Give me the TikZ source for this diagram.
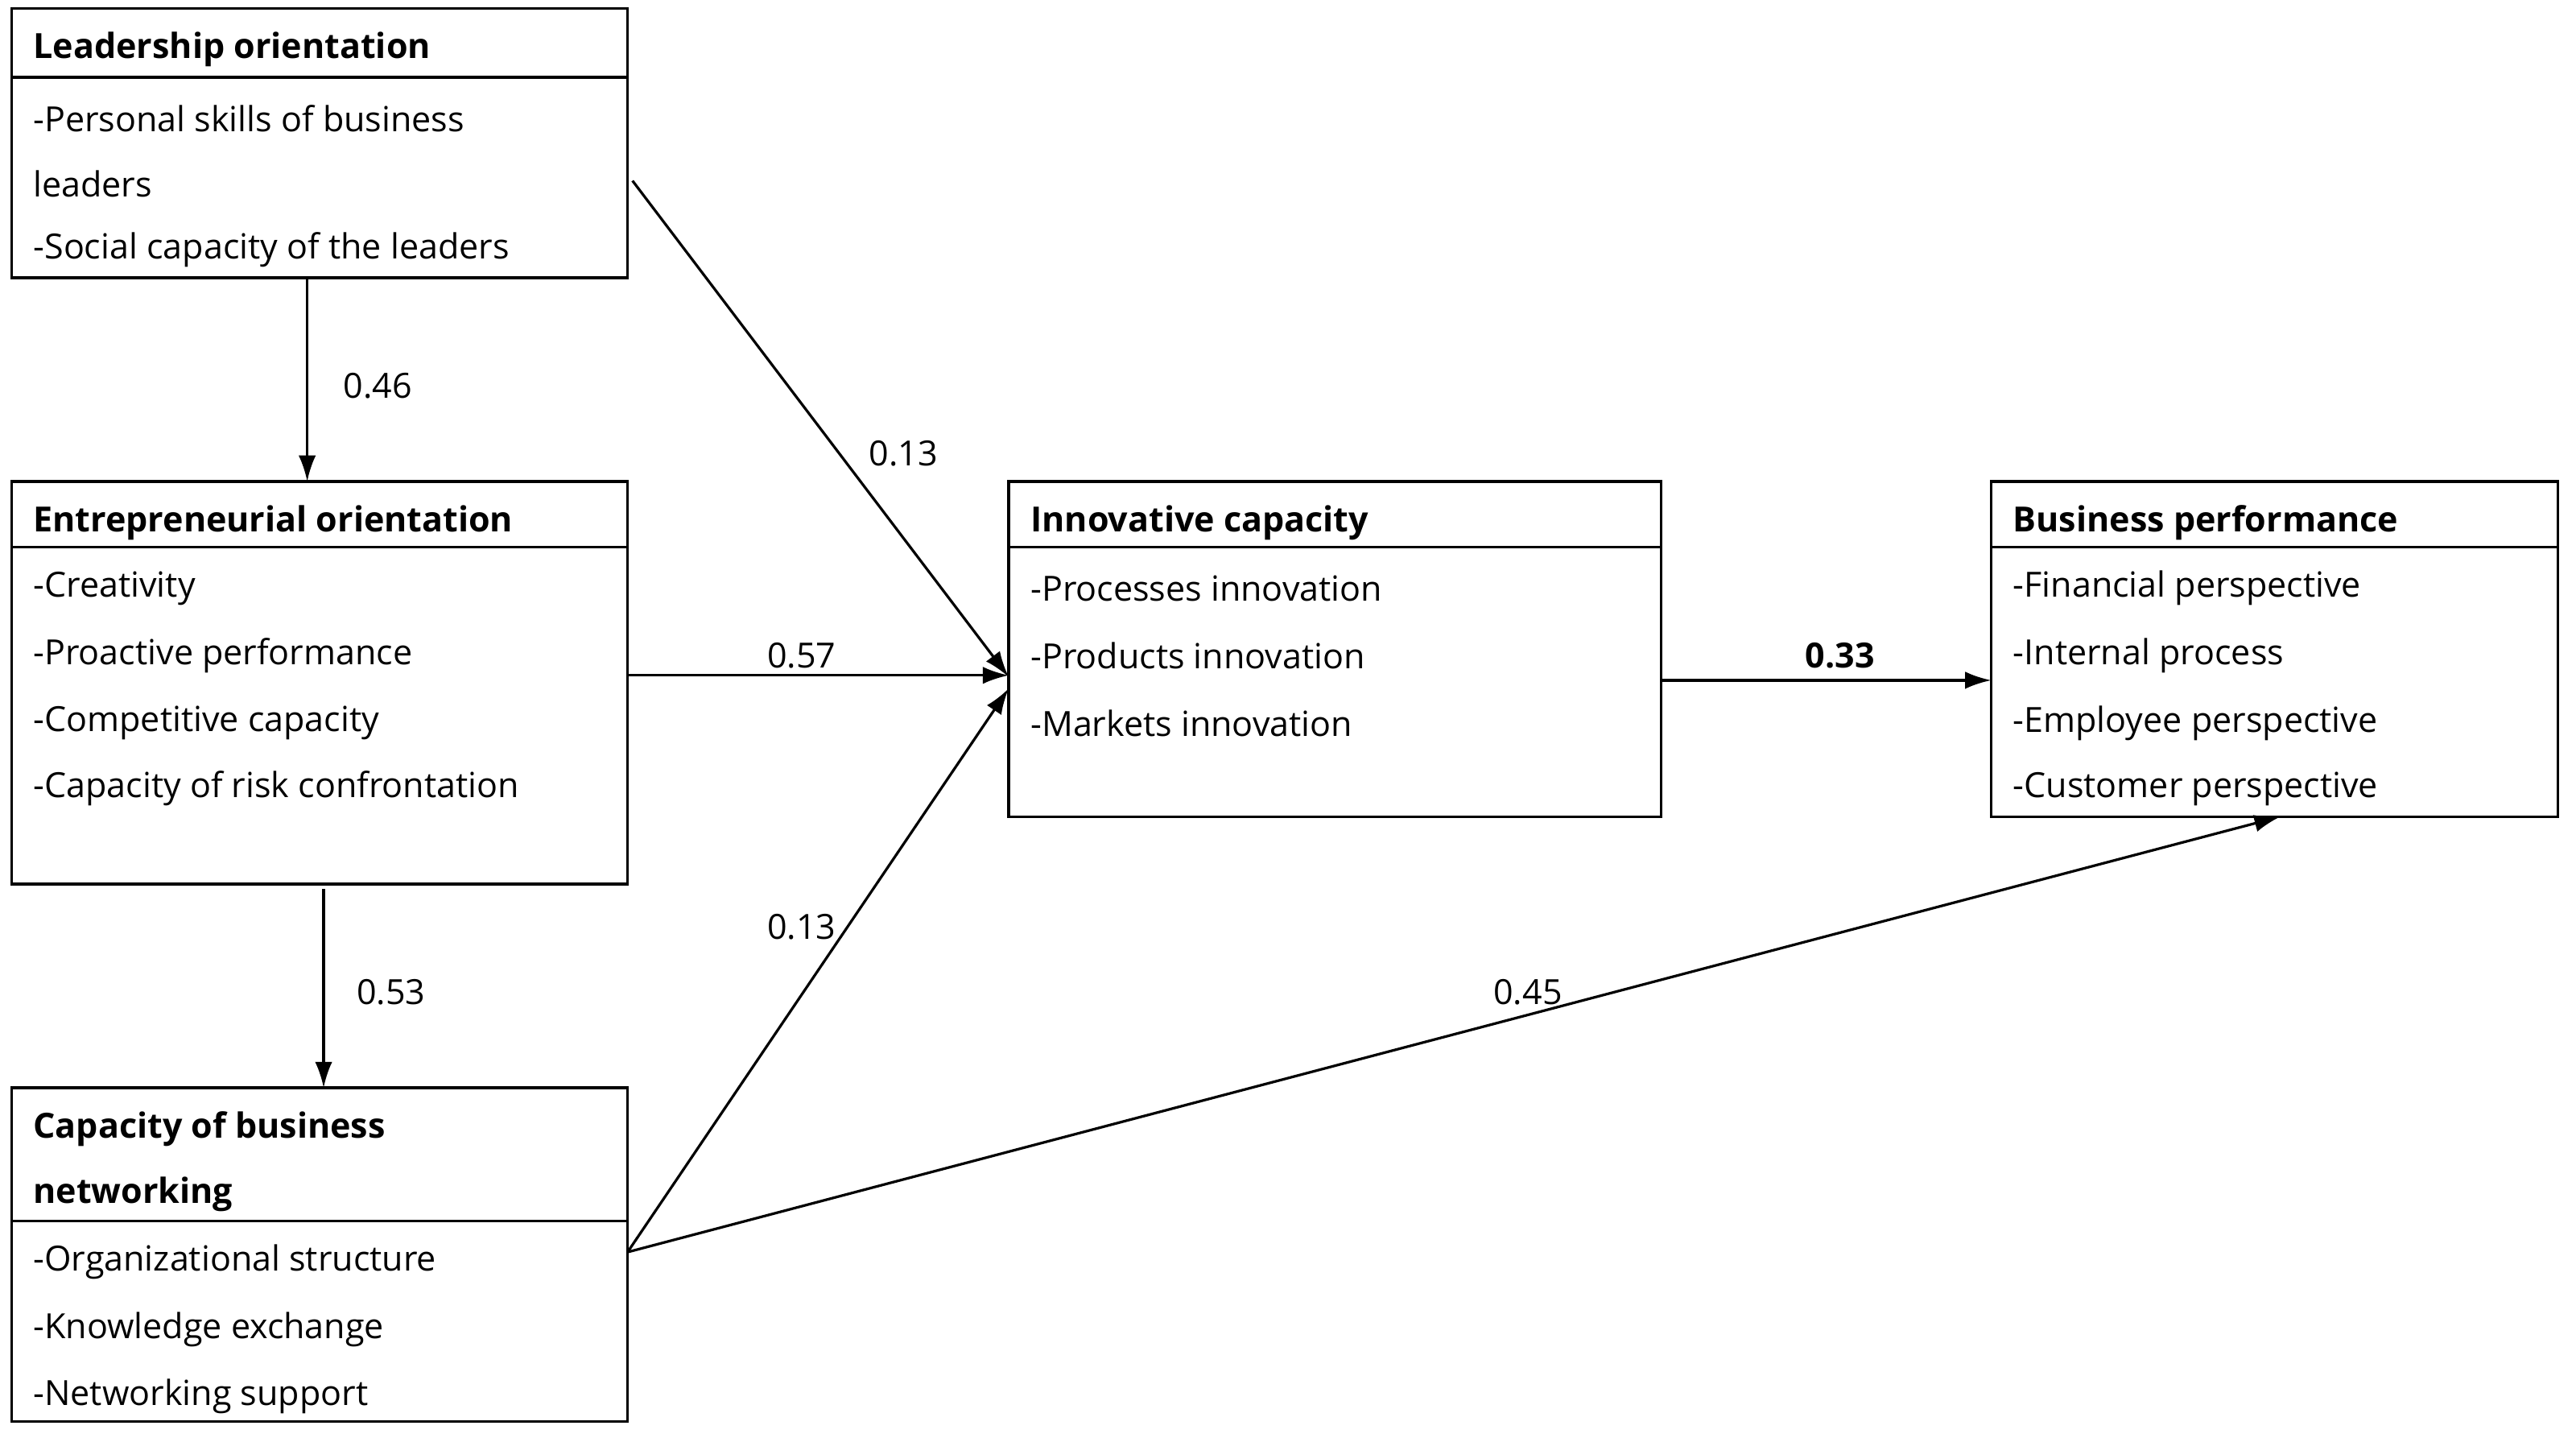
\documentclass[tikz,border=0pt]{standalone}
\usepackage{fontspec}
\setmainfont{Open Sans}
\usetikzlibrary{arrows.meta}
\begin{document}
\begin{tikzpicture}[x=0.02cm,y=-0.02cm,
  box/.style={draw,line width=0.9pt},
  txt/.style={anchor=west,inner sep=0,font=\fontsize{12}{14}\selectfont},
  hdr/.style={txt,font=\fontsize{12}{14}\selectfont\bfseries},
  lab/.style={inner sep=0,font=\fontsize{12}{14}\selectfont},
  arr/.style={line width=0.9pt,-{Latex[length=9pt,width=6pt]}}]
\useasboundingbox (0,0) rectangle (1568,875);
% boxes
\draw[box] (7,5) rectangle (382,169); \draw[box] (7,47) -- (382,47);
\draw[box] (7,293) rectangle (382,538); \draw[box] (7,333) -- (382,333);
\draw[box] (7,662) rectangle (382,865); \draw[box] (7,743) -- (382,743);
\draw[box] (614,293) rectangle (1011,497); \draw[box] (614,333) -- (1011,333);
\draw[box] (1212,293) rectangle (1557,497); \draw[box] (1212,333) -- (1557,333);
% texts
\node[hdr] (l0) at (20,30) {Leadership orientation};
\node[txt] (l1) at (20,72) {-Personal skills of business};
\node[txt] (l2) at (20,112) {leaders};
\node[txt] (l3) at (20,152) {-Social capacity of the leaders};
\node[hdr] (e0) at (20,318) {Entrepreneurial orientation};
\node[txt] (e1) at (20,358) {-Creativity};
\node[txt] (e2) at (20,399) {-Proactive performance};
\node[txt] (e3) at (20,440) {-Competitive capacity};
\node[txt] (e4) at (20,480) {-Capacity of risk confrontation};
\node[hdr] (c0) at (20,687) {Capacity of business};
\node[hdr] (c1) at (20,727) {networking};
\node[txt] (c2) at (20,768) {-Organizational structure};
\node[txt] (c3) at (20,809) {-Knowledge exchange};
\node[txt] (c4) at (20,850) {-Networking support};
\node[hdr] (i0) at (627,318) {Innovative capacity};
\node[txt] (i1) at (627,358) {-Processes innovation};
\node[txt] (i2) at (627,399) {-Products innovation};
\node[txt] (i3) at (627,440) {-Markets innovation};
\node[hdr] (b0) at (1225,318) {Business performance};
\node[txt] (b1) at (1225,358) {-Financial perspective};
\node[txt] (b2) at (1225,399) {-Internal process};
\node[txt] (b3) at (1225,440) {-Employee perspective};
\node[txt] (b4) at (1225,480) {-Customer perspective};
% connector endpoints
\coordinate (la) at (187,169); \coordinate (ea) at (187,293);
\coordinate (eb) at (197,541); \coordinate (ca) at (197,662);
\coordinate (lr) at (385,110); \coordinate (er) at (382,411);
\coordinate (cr) at (382,762);
\coordinate (ia) at (614,412); \coordinate (ib) at (614,411); \coordinate (ic) at (614,419);
\coordinate (ir) at (1011,414); \coordinate (bl) at (1212,414);
\coordinate (bb) at (1388,497);
\draw[arr] (la) -- (ea);
\draw[arr] (eb) -- (ca);
\draw[arr] (lr) -- (ia);
\draw[arr] (er) -- (ib);
\draw[arr] (cr) -- (ic);
\draw[arr] (ir) -- (bl);
\draw[arr] (cr) -- (bb);
\node[lab] (n1) at (230,235) {0.46};
\node[lab] (n2) at (238,604) {0.53};
\node[lab] (n3) at (550,276) {0.13};
\node[lab] (n4) at (488,399) {0.57};
\node[lab] (n5) at (488,564) {0.13};
\node[lab,font=\fontsize{12}{14}\selectfont\bfseries] (n6) at (1120,399) {0.33};
\node[lab] (n7) at (930,604) {0.45};
\end{tikzpicture}
\end{document}
